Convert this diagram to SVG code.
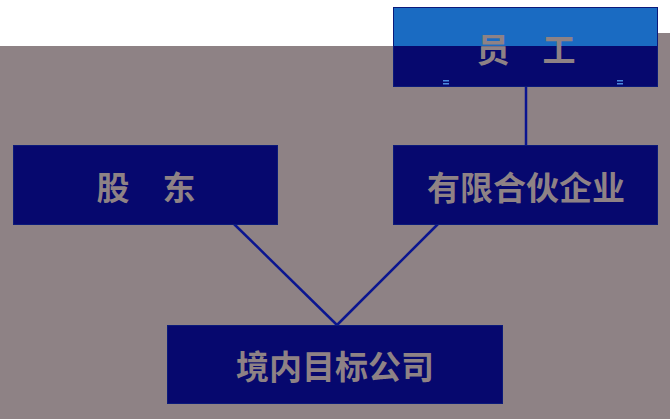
<svg xmlns="http://www.w3.org/2000/svg" width="670" height="419" viewBox="0 0 670 419">
<style>
.box{fill:#06086e;stroke:#0b1a7a;stroke-width:1}
.lbl{font-family:"Noto Sans CJK SC","Noto Sans",sans-serif;font-weight:bold;font-size:33px;fill:#8e8285;text-anchor:middle;dominant-baseline:central}
.conn{stroke:#0a1590;stroke-width:2.5;fill:none}
</style>
<rect x="0" y="0" width="670" height="419" fill="#ffffff"/>
<rect x="0" y="46" width="670" height="373" fill="#8e8285"/>
<rect x="657" y="33" width="13" height="14" fill="#8e8285"/>
<g id="connectors">
<line class="conn" x1="526" y1="86" x2="526" y2="146"/>
<line class="conn" x1="234" y1="224" x2="337" y2="325"/>
<line class="conn" x1="438" y1="224" x2="337" y2="325"/>
</g>
<g id="node-employee">
<rect class="box" x="393.5" y="7.5" width="264" height="79"/>
<rect x="394" y="8" width="263" height="38" fill="#1a6bc2"/>
<text class="lbl" x="526" y="48">员　工</text>
<rect x="443" y="80" width="6" height="1.5" fill="#4a8ae0"/>
<rect x="443" y="83" width="6" height="1.5" fill="#4a8ae0"/>
<rect x="617" y="80" width="6" height="1.5" fill="#4a8ae0"/>
<rect x="617" y="83" width="6" height="1.5" fill="#4a8ae0"/>
</g>
<g id="node-shareholder">
<rect class="box" x="13.5" y="145.5" width="264" height="79"/>
<text class="lbl" x="146" y="186">股　东</text>
</g>
<g id="node-partnership">
<rect class="box" x="393.5" y="145.5" width="264" height="79"/>
<text class="lbl" x="526" y="186">有限合伙企业</text>
</g>
<g id="node-target">
<rect class="box" x="167.5" y="325.5" width="335" height="78"/>
<text class="lbl" x="335" y="365">境内目标公司</text>
</g>
</svg>
